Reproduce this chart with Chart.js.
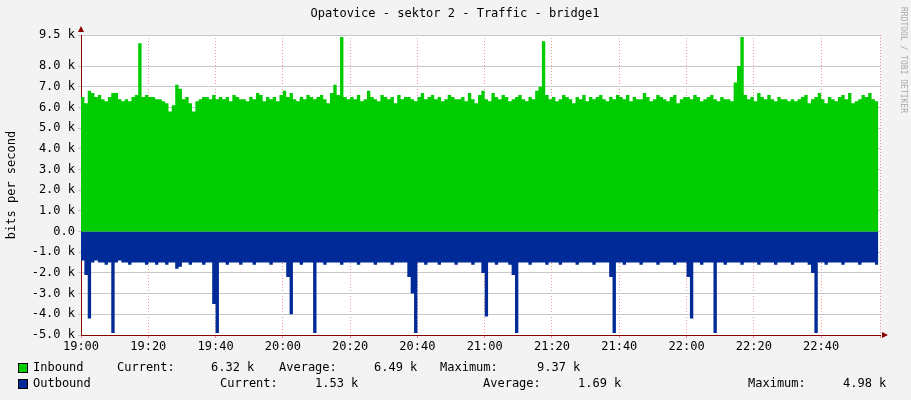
<!DOCTYPE html>
<html><head><meta charset="utf-8">
<script src="https://cdn.jsdelivr.net/npm/chart.js@4/dist/chart.umd.min.js"></script>
<style>html,body{margin:0;padding:0;background:#f3f3f3}#wrap{width:911px;height:400px}</style>
</head><body><div id="wrap"><canvas id="myChart" width="911" height="400"></canvas></div>
<script>
// minutes after 19:00, values in k bits per second
inbound = [6.5,6.2,6.8,6.7,6.5,6.6,6.4,6.3,6.5,6.7,6.7,6.4,6.3,6.4,6.3,6.5,6.6,9.1,6.5,6.6,
6.5,6.5,6.4,6.4,6.3,6.2,5.8,6.1,7.1,6.9,6.4,6.5,6.2,5.8,6.3,6.4,6.5,6.5,6.4,6.6,
6.4,6.5,6.4,6.5,6.3,6.6,6.5,6.4,6.4,6.3,6.5,6.4,6.7,6.6,6.3,6.5,6.4,6.5,6.3,6.6,
6.8,6.5,6.7,6.4,6.3,6.5,6.4,6.6,6.5,6.4,6.5,6.6,6.4,6.2,6.7,7.1,6.6,9.4,6.5,6.4,
6.5,6.4,6.6,6.3,6.4,6.8,6.5,6.4,6.3,6.6,6.5,6.4,6.5,6.2,6.6,6.4,6.5,6.5,6.4,6.3,
6.5,6.7,6.4,6.5,6.6,6.4,6.5,6.3,6.4,6.6,6.5,6.4,6.4,6.5,6.3,6.7,6.4,6.2,6.6,6.8,
6.4,6.3,6.7,6.5,6.4,6.6,6.5,6.3,6.4,6.5,6.6,6.4,6.3,6.5,6.4,6.8,7.0,9.2,6.6,6.4,
6.5,6.3,6.4,6.6,6.5,6.4,6.2,6.5,6.4,6.6,6.3,6.5,6.4,6.5,6.6,6.4,6.3,6.5,6.4,6.6,
6.5,6.4,6.6,6.3,6.5,6.4,6.4,6.7,6.5,6.3,6.4,6.6,6.5,6.4,6.3,6.5,6.6,6.2,6.4,6.5,
6.5,6.4,6.6,6.5,6.3,6.4,6.5,6.6,6.4,6.3,6.5,6.4,6.4,6.3,7.2,8.0,9.4,6.6,6.4,6.5,
6.3,6.7,6.5,6.4,6.6,6.4,6.3,6.5,6.4,6.4,6.3,6.4,6.3,6.4,6.5,6.6,6.2,6.4,6.5,6.7,
6.4,6.2,6.5,6.4,6.3,6.5,6.6,6.4,6.7,6.2,6.3,6.4,6.6,6.5,6.7,6.4,6.3,6.3]
outbound = [-1.4,-2.1,-4.2,-1.5,-1.4,-1.5,-1.5,-1.6,-1.5,-4.9,-1.5,-1.4,-1.5,-1.5,-1.6,-1.5,-1.5,-1.5,-1.5,-1.6,
-1.5,-1.5,-1.6,-1.5,-1.5,-1.6,-1.5,-1.5,-1.8,-1.7,-1.5,-1.5,-1.6,-1.5,-1.5,-1.5,-1.6,-1.5,-1.5,-3.5,
-4.9,-1.5,-1.5,-1.6,-1.5,-1.5,-1.5,-1.6,-1.5,-1.5,-1.5,-1.6,-1.5,-1.5,-1.5,-1.5,-1.6,-1.5,-1.5,-1.5,
-1.5,-2.2,-4.0,-1.5,-1.5,-1.6,-1.5,-1.5,-1.5,-4.9,-1.5,-1.5,-1.6,-1.5,-1.5,-1.5,-1.5,-1.6,-1.5,-1.5,
-1.5,-1.5,-1.6,-1.5,-1.5,-1.5,-1.5,-1.6,-1.5,-1.5,-1.5,-1.5,-1.6,-1.5,-1.5,-1.5,-1.5,-2.2,-3.0,-4.9,
-1.5,-1.5,-1.6,-1.5,-1.5,-1.5,-1.6,-1.5,-1.5,-1.5,-1.5,-1.6,-1.5,-1.5,-1.5,-1.5,-1.6,-1.5,-1.5,-2.0,
-4.1,-1.5,-1.5,-1.6,-1.5,-1.5,-1.5,-1.6,-2.1,-4.9,-1.5,-1.5,-1.5,-1.6,-1.5,-1.5,-1.5,-1.5,-1.6,-1.5,
-1.5,-1.5,-1.6,-1.5,-1.5,-1.5,-1.5,-1.6,-1.5,-1.5,-1.5,-1.5,-1.6,-1.5,-1.5,-1.5,-1.5,-2.2,-4.9,-1.5,
-1.5,-1.6,-1.5,-1.5,-1.5,-1.5,-1.6,-1.5,-1.5,-1.5,-1.5,-1.6,-1.5,-1.5,-1.5,-1.5,-1.6,-1.5,-1.5,-1.5,
-2.2,-4.2,-1.5,-1.5,-1.6,-1.5,-1.5,-1.5,-4.9,-1.5,-1.5,-1.6,-1.5,-1.5,-1.5,-1.5,-1.6,-1.5,-1.5,-1.5,
-1.5,-1.6,-1.5,-1.5,-1.5,-1.5,-1.6,-1.5,-1.5,-1.5,-1.5,-1.6,-1.5,-1.5,-1.5,-1.5,-1.6,-2.0,-4.9,-1.5,
-1.5,-1.6,-1.5,-1.5,-1.5,-1.5,-1.6,-1.5,-1.5,-1.5,-1.5,-1.6,-1.5,-1.5,-1.5,-1.5,-1.6,-1.5]
timeTicks = ["19:00","19:20","19:40","20:00","20:20","20:40","21:00","21:20","21:40","22:00","22:20","22:40"]
inStats = ["6.32 k", "6.49 k", "9.37 k"]
outStats = ["1.53 k", "1.69 k", "4.98 k"]

mono = "'DejaVu Sans Mono', monospace"
inPts = inbound.map((v, i) => ({x: i, y: v}))
outPts = outbound.map((v, i) => ({x: i, y: v}))

let extras = {
  id: 'extras',
  beforeDraw(chart) {
    let c = chart.ctx, a = chart.chartArea
    c.save()
    c.fillStyle = '#ffffff'
    c.fillRect(a.left, a.top, a.right - a.left, a.bottom - a.top)
    c.restore()
  },
  afterDraw(chart) {
    let c = chart.ctx, a = chart.chartArea
    c.save()
    c.fillStyle = '#000'
    c.font = "12px " + mono
    c.textAlign = 'center'
    c.textBaseline = 'middle'
    c.fillText("Opatovice - sektor 2 - Traffic - bridge1", 455, 14)
    c.save()
    c.translate(12, 185)
    c.rotate(-Math.PI / 2)
    c.fillText("bits per second", 0, 0)
    c.restore()
    c.save()
    c.fillStyle = '#aaaaaa'
    c.font = "8px " + mono
    c.translate(903, 60)
    c.rotate(Math.PI / 2)
    c.fillText("RRDTOOL / TOBI OETIKER", 0, 0)
    c.restore()
    // axis arrows
    c.fillStyle = '#880000'
    c.beginPath(); c.moveTo(a.right + 2, a.bottom - 3); c.lineTo(a.right + 8, a.bottom); c.lineTo(a.right + 2, a.bottom + 3); c.fill()
    c.beginPath(); c.moveTo(a.left - 3, a.top - 3); c.lineTo(a.left, a.top - 9); c.lineTo(a.left + 3, a.top - 3); c.fill()
    // legend
    c.font = "12px " + mono
    c.textAlign = 'left'
    let rows = [
      {y: 368, col: '#00cc00', name: 'Inbound', s: inStats, xs: [117, 211, 279, 374, 440, 537]},
      {y: 384, col: '#002a97', name: 'Outbound', s: outStats, xs: [220, 315, 483, 578, 748, 843]}
    ]
    rows.forEach(r => {
      c.fillStyle = r.col
      c.fillRect(18, r.y - 5, 10, 10)
      c.strokeStyle = '#000'; c.lineWidth = 1
      c.strokeRect(18.5, r.y - 4.5, 9, 9)
      c.fillStyle = '#000'
      c.fillText(r.name, 33, r.y)
      let lbl = ['Current:', 'Average:', 'Maximum:']
      for (let k = 0; k < 3; k++) {
        c.fillText(lbl[k], r.xs[k * 2], r.y)
        c.fillText(r.s[k], r.xs[k * 2 + 1], r.y)
      }
    })
    c.restore()
  }
}

let ctx = document.getElementById('myChart')
new Chart(ctx, {
  type: 'line',
  data: {
    datasets: [
      {label: 'Inbound', data: inPts, stepped: true, fill: 'origin', backgroundColor: '#00cc00', borderColor: '#00cc00', borderWidth: 0, pointRadius: 0},
      {label: 'Outbound', data: outPts, stepped: true, fill: 'origin', backgroundColor: '#002a97', borderColor: '#002a97', borderWidth: 0, pointRadius: 0}
    ]
  },
  plugins: [extras],
  options: {
    responsive: false,
    animation: false,
    layout: {padding: {top: 35, right: 31, left: 0, bottom: 0}},
    plugins: {legend: {display: false}, tooltip: {enabled: false}},
    scales: {
      x: {
        type: 'linear', min: 0, max: 237.5,
        afterFit(s) { s.height = 65 },
        ticks: {stepSize: 20, maxRotation: 0, color: '#000', font: {family: mono, size: 12}, padding: 2,
          callback: (v) => timeTicks[v / 20] || ''},
        grid: {color: 'rgba(230,80,80,0.6)', tickLength: 3, drawOnChartArea: true},
        border: {color: '#880000', dash: [1, 2]}
      },
      y: {
        min: -5, max: 9.5,
        afterFit(s) { s.width = 81 },
        ticks: {stepSize: 1, color: '#000', font: {family: mono, size: 12}, padding: 3,
          callback: (v) => v == 0 ? '0.0' : v.toFixed(1) + ' k'},
        grid: {color: '#c8c8c8', tickLength: 3},
        border: {color: '#880000'}
      }
    }
  }
})
</script></body></html>
